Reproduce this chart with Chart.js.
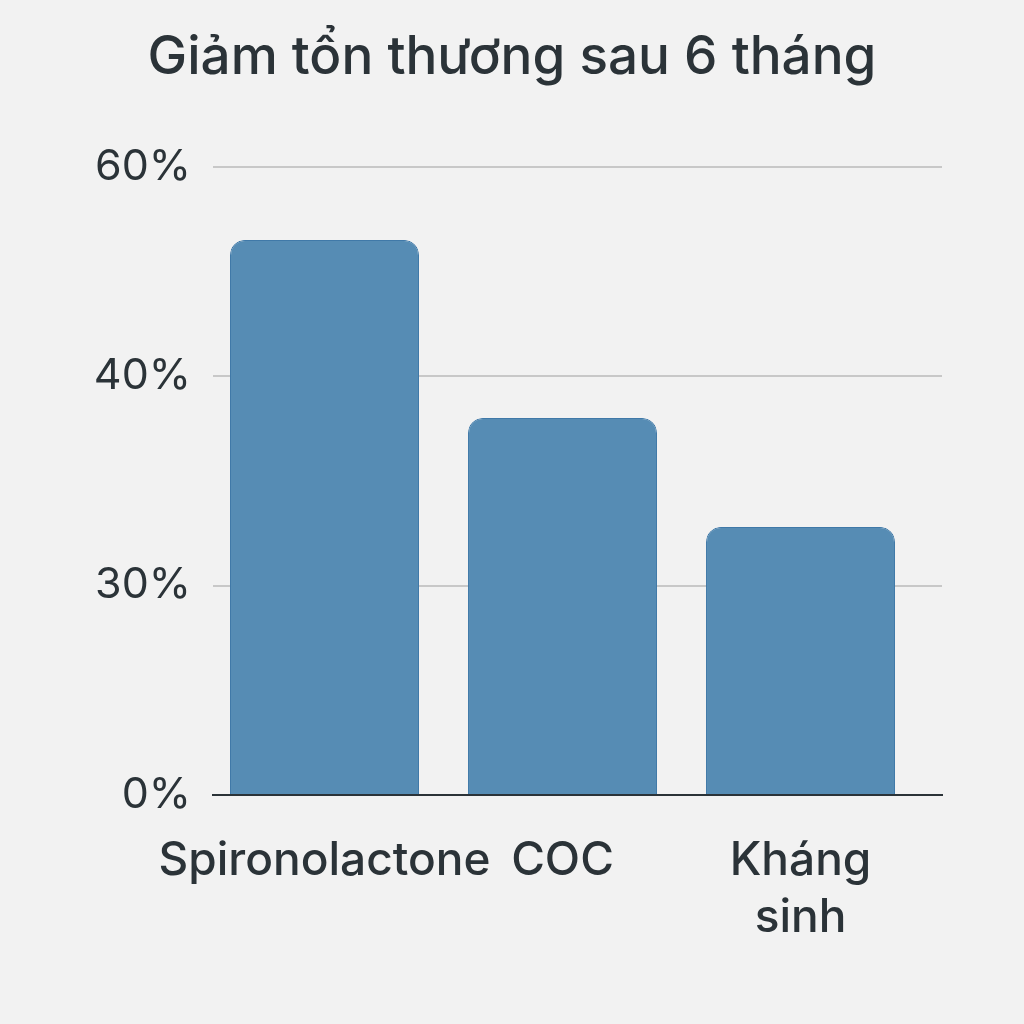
<!DOCTYPE html>
<html>
<head>
<meta charset="utf-8">
<script src="https://cdn.jsdelivr.net/npm/chart.js@4"></script>
<style>
  html, body { margin: 0; padding: 0; background: #f2f2f2; }
  #wrap { width: 1024px; height: 1024px; }
</style>
</head>
<body>
<div id="wrap"><canvas id="grafico"></canvas></div>
<script>
// dữ liệu
const categories = ["Spironolactone", "COC", ["Kháng", "sinh"]];
const values = [53, 36, 25.6];
const tickValues = [0, 20, 40, 60];
const tickLabels = ["0%", "30%", "40%", "60%"];

const textColor = "#2b3338";

const data = {
  datasets: [
    {
      label: "Giảm tổn thương",
      data: values.map((v, i) => ({ x: i, y: v })),
      backgroundColor: "#568cb4",
      borderColor: "#4079a8",
      borderWidth: 1,
      borderRadius: { topLeft: 15, topRight: 15 },
      borderSkipped: "bottom",
      barPercentage: 0.794,
      categoryPercentage: 1,
    },
  ],
};

const config = {
  type: "bar",
  data: data,
  options: {
    responsive: true,
    maintainAspectRatio: false,
    animation: false,
    layout: { padding: 0 },
    plugins: {
      legend: { display: false },
      tooltip: { enabled: false },
      title: {
        display: true,
        text: "Giảm tổn thương sau 6 tháng",
        color: textColor,
        font: { family: "Inter", size: 53, weight: "500" },
        padding: { top: 26, bottom: 77 },
      },
    },
    scales: {
      x: {
        type: "linear",
        min: -0.4685,
        max: 2.5945,
        offset: false,
        bounds: "data",
        grid: { display: false, offset: false },
        border: { display: true, color: textColor, width: 2 },
        afterBuildTicks: (s) => { s.ticks = categories.map((c, i) => ({ value: i })); },
        ticks: {
          color: textColor,
          font: { family: "Inter", size: 46, weight: "500", lineHeight: 1.25 },
          padding: 29,
          maxRotation: 0,
          autoSkip: false,
          callback: (v) => categories[v],
        },
        afterFit: (s) => { s.height = 229; },
      },
      y: {
        min: 0,
        max: 60,
        border: { display: false },
        grid: { color: "#c8c8c8", lineWidth: 2, drawTicks: false },
        afterBuildTicks: (s) => { s.ticks = tickValues.map((v) => ({ value: v })); },
        ticks: {
          color: textColor,
          font: { family: "Inter", size: 43 },
          padding: 22,
          callback: (v) => tickLabels[tickValues.indexOf(v)],
        },
        afterFit: (s) => { s.width = 213; },
      },
      yRight: {
        position: "right",
        display: true,
        grid: { display: false },
        border: { display: false },
        ticks: { display: false },
        afterFit: (s) => { s.width = 82; },
      },
    },
  },
};

const grafico = new Chart(document.getElementById("grafico"), config);
</script>
</body>
</html>
